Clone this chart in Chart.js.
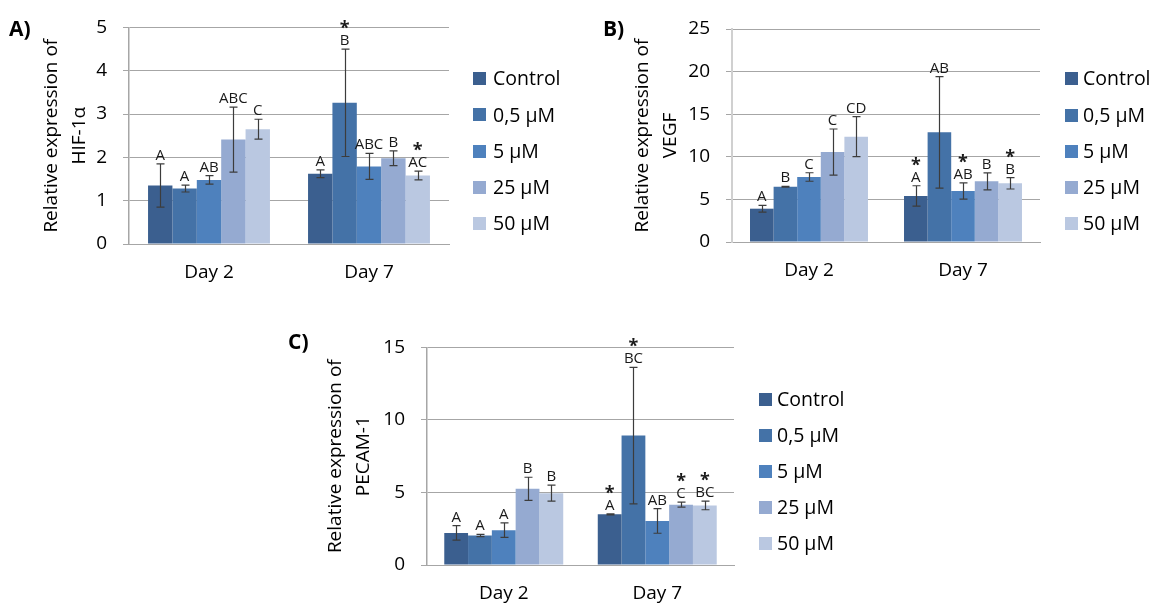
<!DOCTYPE html>
<html>
<head>
<meta charset="utf-8">
<script src="https://cdn.jsdelivr.net/npm/chart.js@4/dist/chart.umd.min.js"></script>
<style>
  html, body { margin:0; padding:0; background:#fff; }
  #wrap { position:relative; width:1153px; height:604px; overflow:hidden; font-family:"Open Sans", sans-serif; }
  canvas { position:absolute; }
  .panel { position:absolute; font-weight:bold; font-size:21px; line-height:1; color:#000; }
  .leg { position:absolute; left:0; top:0; width:1153px; height:604px; font-size:19.5px; color:#000; line-height:1; }
  .leg .box { position:absolute; width:13px; height:13px; }
  .leg .txt { position:absolute; white-space:nowrap; transform:translateY(-50%); }
</style>
</head>
<body>
<div id="wrap">
  <canvas id="cA" width="460" height="284" style="left:0px;top:0px;"></canvas>
  <canvas id="cB" width="451" height="284" style="left:600px;top:0px;"></canvas>
  <canvas id="cC" width="455" height="284" style="left:290px;top:320px;"></canvas>
  <div class="panel" style="left:9px;top:18px;">A)</div>
  <div class="panel" style="left:603px;top:18px;">B)</div>
  <div class="panel" style="left:288px;top:331px;">C)</div>
  <div class="leg" id="legA"></div>
  <div class="leg" id="legB"></div>
  <div class="leg" id="legC"></div>
</div>
<script>
// ---- data ----
const categories = ['Day 2', 'Day 7'];
const seriesNames = ['Control', '0,5 µM', '5 µM', '25 µM', '50 µM'];
const seriesColors = ['#3b5f8f', '#4472a7', '#4e81bd', '#95aad1', '#bac8e1'];

// HIF-1α (per series: [Day 2, Day 7])
const hifValues  = [[1.35, 1.62], [1.28, 3.26], [1.48, 1.79], [2.41, 1.98], [2.65, 1.58]];
const hifErrors  = [[0.50, 0.09], [0.08, 1.24], [0.10, 0.30], [0.75, 0.17], [0.23, 0.10]];
const hifLetters = [['A', 'A'], ['A', 'B'], ['AB', 'ABC'], ['ABC', 'B'], ['C', 'AC']];
const hifStars   = [[false, false], [false, true], [false, false], [false, false], [false, true]];
const hifTicks   = [0, 1, 2, 3, 4, 5];

// VEGF
const vegfValues  = [[3.91, 5.40], [6.49, 12.87], [7.63, 5.99], [10.56, 7.12], [12.36, 6.89]];
const vegfErrors  = [[0.40, 1.20], [0.05, 6.55], [0.50, 0.95], [2.70, 1.00], [2.35, 0.67]];
const vegfLetters = [['A', 'A'], ['B', 'AB'], ['C', 'AB'], ['C', 'B'], ['CD', 'B']];
const vegfStars   = [[false, true], [false, false], [false, true], [false, false], [false, true]];
const vegfTicks   = [0, 5, 10, 15, 20, 25];

// PECAM-1
const pecamValues  = [[2.21, 3.49], [2.03, 8.92], [2.40, 3.04], [5.25, 4.16], [4.95, 4.11]];
const pecamErrors  = [[0.50, 0.04], [0.08, 4.70], [0.50, 0.85], [0.80, 0.17], [0.55, 0.30]];
const pecamLetters = [['A', 'A'], ['A', 'BC'], ['A', 'AB'], ['B', 'C'], ['B', 'BC']];
const pecamStars   = [[false, true], [false, true], [false, false], [false, true], [false, true]];
const pecamTicks   = [0, 5, 10, 15];

const FONT = 'Open Sans';

function annotPlugin(errors, letters, stars) {
  return {
    id: 'annot',
    afterDatasetsDraw(chart) {
      const ctx = chart.ctx;
      const y = chart.scales.y;
      chart.data.datasets.forEach((ds, i) => {
        const meta = chart.getDatasetMeta(i);
        meta.data.forEach((bar, j) => {
          const v = ds.data[j], e = errors[i][j];
          const yt = y.getPixelForValue(v + e);
          const yb = y.getPixelForValue(v - e);
          const x = Math.round(bar.x) + 0.5;
          ctx.save();
          ctx.strokeStyle = '#3c3c3c';
          ctx.lineWidth = 1.2;
          ctx.beginPath();
          ctx.moveTo(x, yt); ctx.lineTo(x, yb);
          ctx.moveTo(x - 4, yt); ctx.lineTo(x + 4, yt);
          ctx.moveTo(x - 4, yb); ctx.lineTo(x + 4, yb);
          ctx.stroke();
          const base = yt - 4;
          ctx.fillStyle = '#1a1a1a';
          ctx.textAlign = 'center';
          ctx.textBaseline = 'alphabetic';
          ctx.font = '15px "' + FONT + '"';
          ctx.fillText(letters[i][j], bar.x, base);
          if (stars[i][j]) {
            ctx.font = 'bold 18px "' + FONT + '"';
            ctx.fillText('*', bar.x, base - 11);
          }
          ctx.restore();
        });
      });
    }
  };
}

function makeChart(id, values, errors, letters, stars, ticks, titleLines, g) {
  return new Chart(document.getElementById(id), {
    type: 'bar',
    data: {
      labels: categories,
      datasets: seriesNames.map((n, i) => ({
        label: n,
        data: values[i],
        backgroundColor: seriesColors[i],
        borderWidth: 0,
        categoryPercentage: g.cat,
        barPercentage: 1
      }))
    },
    options: {
      responsive: false,
      animation: false,
      events: [],
      layout: { padding: { left: g.padL, top: g.padT, right: g.padR, bottom: 0 } },
      plugins: { legend: { display: false }, tooltip: { enabled: false } },
      scales: {
        x: {
          grid: { display: false, drawTicks: false },
          border: { display: true, color: '#a6a6a6', width: 1 },
          ticks: { color: '#000', font: { family: FONT, size: 19 }, padding: 17 },
          afterFit(s) { s.height = g.xH; }
        },
        y: {
          min: ticks[0],
          max: ticks[ticks.length - 1],
          ticks: { stepSize: ticks[1] - ticks[0], color: '#000', font: { family: FONT, size: 19 }, padding: 16 },
          afterBuildTicks(s) { s.ticks = ticks.map(v => ({ value: v })); },
          grid: { color: '#a6a6a6', lineWidth: 1, tickLength: 6, drawTicks: true },
          border: { color: g.axisColor, width: g.axisWidth },
          title: {
            display: true,
            text: titleLines,
            color: '#000',
            font: { family: FONT, size: 19, lineHeight: 1.45 },
            padding: { top: 0, bottom: 0 }
          },
          afterFit(s) { s.width = g.yW; }
        }
      }
    },
    plugins: [annotPlugin(errors, letters, stars)]
  });
}

function makeLegend(id, boxLeft, textLeft, rows) {
  const el = document.getElementById(id);
  seriesNames.forEach((n, i) => {
    const b = document.createElement('div');
    b.className = 'box';
    b.style.left = boxLeft + 'px';
    b.style.top = (rows[i] - 6.5) + 'px';
    b.style.background = seriesColors[i];
    el.appendChild(b);
    const t = document.createElement('div');
    t.className = 'txt';
    t.style.left = textLeft + 'px';
    t.style.top = rows[i] + 'px';
    t.textContent = n;
    el.appendChild(t);
  });
}

makeChart('cA', hifValues, hifErrors, hifLetters, hifStars, hifTicks,
  ['Relative expression of', 'HIF-1α'],
  { padL: 38, padT: 26, padR: 11, yW: 91, xH: 40, cat: 0.762, axisColor: '#a6a6a6', axisWidth: 1.5 });
makeChart('cB', vegfValues, vegfErrors, vegfLetters, vegfStars, vegfTicks,
  ['Relative expression of', 'VEGF'],
  { padL: 29, padT: 29, padR: 11, yW: 103, xH: 42, cat: 0.766, axisColor: '#d0d0d0', axisWidth: 2 });
makeChart('cC', pecamValues, pecamErrors, pecamLetters, pecamStars, pecamTicks,
  ['Relative expression of', 'PECAM-1'],
  { padL: 32, padT: 26, padR: 11, yW: 105, xH: 39, cat: 0.775, axisColor: '#a6a6a6', axisWidth: 1.5 });

makeLegend('legA', 473, 493, [78, 114.5, 151, 187, 223]);
makeLegend('legB', 1065, 1083, [78, 115, 151, 187, 223]);
makeLegend('legC', 759, 777, [399, 435, 471, 507, 543]);
</script>
</body>
</html>
